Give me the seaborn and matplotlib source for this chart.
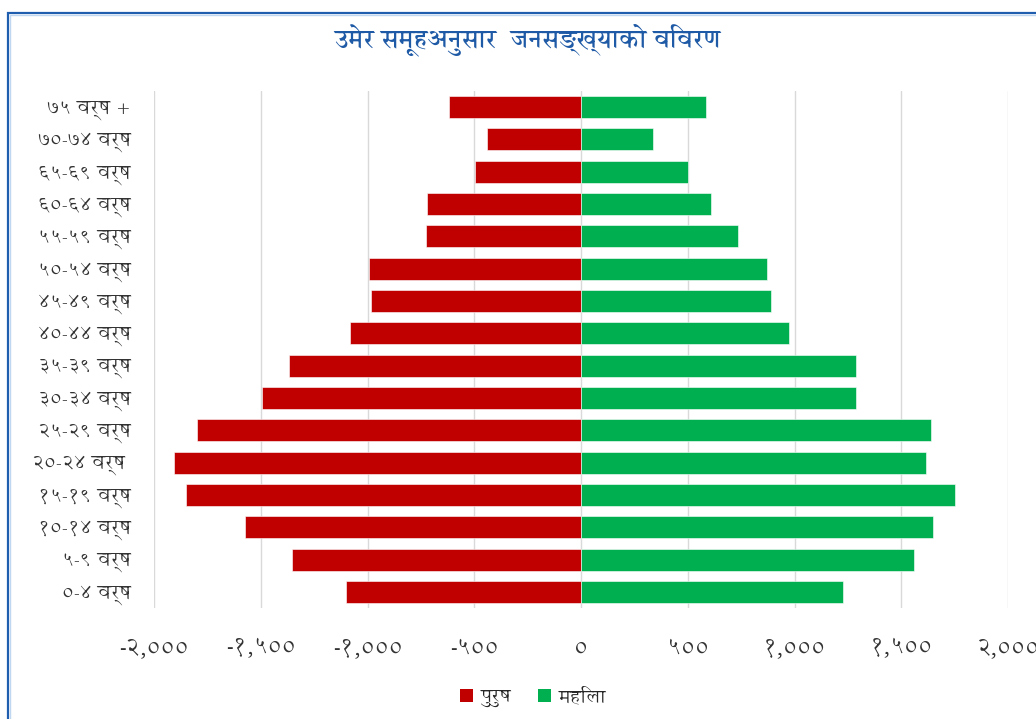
import matplotlib
matplotlib.use("Agg")
import matplotlib.pyplot as plt
import seaborn as sns
import pandas as pd
from matplotlib import font_manager
from matplotlib.ticker import FuncFormatter, MultipleLocator
from matplotlib.patches import Rectangle, Patch

# ---------------- data ----------------
age_groups = ["७५ वर्ष +", "७०-७४ वर्ष", "६५-६९ वर्ष", "६०-६४ वर्ष", "५५-५९ वर्ष",
              "५०-५४ वर्ष", "४५-४९ वर्ष", "४०-४४ वर्ष", "३५-३९ वर्ष", "३०-३४ वर्ष",
              "२५-२९ वर्ष", "२०-२४ वर्ष ", "१५-१९ वर्ष", "१०-१४ वर्ष", "५-९ वर्ष", "०-४ वर्ष"]
male = [617, 439, 496, 721, 725, 993, 983, 1082, 1368, 1494, 1799, 1907, 1850, 1574, 1355, 1102]
female = [587, 339, 503, 611, 737, 873, 892, 972, 1286, 1286, 1638, 1614, 1750, 1647, 1558, 1225]
series_names = ["पुरुष", "महिला"]
title_text = "उमेर समूहअनुसार  जनसङ्ख्याको विवरण"

# ---------------- fonts ----------------
sns.set_theme(style="white")
available = {f.name for f in font_manager.fontManager.ttflist}
deva = None
for cand in ["Annapurna SIL", "Amiko", "FreeSans", "Noto Sans Devanagari"]:
    if cand in available:
        deva = cand
        break
fam = ([deva] if deva else []) + ["DejaVu Sans"]
plt.rcParams["font.family"] = fam

DEV_DIGITS = str.maketrans("0123456789", "०१२३४५६७८९")

def fmt(v, pos):
    s = f"{int(round(v)):,}"
    return s.translate(DEV_DIGITS)

# ---------------- frame ----------------
df = pd.DataFrame({
    "age": age_groups * 2,
    "value": [-m for m in male] + female,
    "sex": [series_names[0]] * len(male) + [series_names[1]] * len(female),
})

colors = {"पुरुष": "#C00000", "महिला": "#00B050"}

fig = plt.figure(figsize=(10.36, 7.19), dpi=100)
ax = fig.add_axes([154 / 1036, 1 - 608 / 719, (1008 - 154) / 1036, (608 - 91) / 719])

sns.barplot(data=df, y="age", x="value", hue="sex", order=age_groups,
            hue_order=series_names, palette=colors, dodge=False, orient="h",
            width=0.68, ax=ax, legend=False, saturation=1,
            edgecolor="white", linewidth=0.4)

ax.set_xlim(-2000, 2000)
ax.xaxis.set_major_locator(MultipleLocator(500))
ax.xaxis.set_major_formatter(FuncFormatter(fmt))
ax.grid(axis="x", color="#d9d9d9", linewidth=1)
ax.grid(axis="y", visible=False)
ax.set_axisbelow(True)
for s in ax.spines.values():
    s.set_visible(False)
ax.set_xlabel("")
ax.set_ylabel("")
ax.tick_params(axis="x", length=0, pad=22, labelsize=17, labelcolor="#333333")
ax.tick_params(axis="y", length=0, pad=17, labelsize=14.5, labelcolor="#333333")

fig.text(527 / 1036, 1 - 40 / 719, title_text, ha="center", va="center",
         fontsize=18, fontweight="bold", color="#1F5AA6")

handles = [Patch(facecolor=colors[n], edgecolor="none") for n in series_names]
fig.legend(handles, series_names, loc="center", bbox_to_anchor=(533 / 1036, 1 - 697 / 719),
           ncol=2, frameon=False, fontsize=14, handlelength=0.65, handleheight=0.65,
           handletextpad=0.4, columnspacing=1.4)

fig.patches.append(Rectangle((8 / 1036, -0.05), 1.1, (719 - 13) / 719 + 0.05,
                             transform=fig.transFigure, fill=False,
                             edgecolor="#1F5DAE", linewidth=1.6))
fig.patches.append(Rectangle((10 / 1036, -0.05), 1.1, (719 - 15) / 719 + 0.05,
                             transform=fig.transFigure, fill=False,
                             edgecolor="#BFD7F0", linewidth=1.0))

fig.savefig("out.png", dpi=100)
